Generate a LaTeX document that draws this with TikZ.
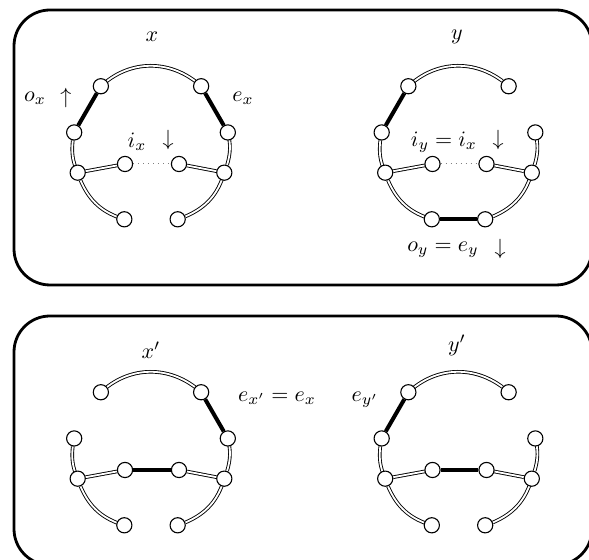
\documentclass[tikz,border=0pt]{standalone}
\usetikzlibrary{backgrounds}
\begin{document}
\begin{tikzpicture}[x=0.5pt,y=0.5pt,
  vtx/.style={circle,draw,fill=white,line width=0.55pt,minimum size=7.6pt,inner sep=0pt},
  dbl/.style={double,double distance=0.9pt,line width=0.45pt},
  heavy/.style={line width=2pt},
  gap/.style={dotted,line width=0.5pt,gray},
  frame/.style={draw,line width=1.4pt,rounded corners=18pt},
  lbl/.style={inner sep=0pt,scale=1.1,transform shape}]
\useasboundingbox (0,0) rectangle (589,560);

% the two panels
\draw[frame] (14,275) rectangle (592,550);
\draw[frame] (14,-5) rectangle (592,244);

% ten vertices on and inside a ring of radius 78
\newcommand\ringvertices{%
  \node[vtx] (tl) at (130:78) {};
  \node[vtx] (tr) at (50:78) {};
  \node[vtx] (lm) at (170:78) {};
  \node[vtx] (rm) at (10:78) {};
  \node[vtx] (ol) at (200:78) {};
  \node[vtx] (or) at (340:78) {};
  \node[vtx] (bl) at (250:78) {};
  \node[vtx] (br) at (290:78) {};
  \node[vtx] (il) at (-26,-18) {};
  \node[vtx] (ir) at (28,-18) {};}
% ring pieces shared by every graph
\newcommand\ringbase{%
  \draw[dbl] (tr) to[bend right=40] (tl);
  \draw[dbl] (lm) to[bend right=15] (ol);
  \draw[dbl] (ol) to[bend right=25] (bl);
  \draw[dbl] (br) to[bend right=25] (or);
  \draw[dbl] (or) to[bend right=15] (rm);
  \draw[dbl] (ol) -- (il);
  \draw[dbl] (or) -- (ir);}

% graph x
\begin{scope}[shift={(151,414)},name prefix=x-]
  \ringvertices
  \begin{scope}[on background layer]
    \ringbase
    \draw[heavy] (tl) -- (lm);
    \draw[heavy] (tr) -- (rm);
    \draw[gap] (il) -- (ir);
  \end{scope}
\end{scope}
\node[lbl] (xname) at (152,523) {$x$};
\node[lbl] (ox) at (35,462) {$o_x$};
\node[lbl] (oxarrow) at (66,462) {$\uparrow$};
\node[lbl] (ex) at (243,462) {$e_x$};
\node[lbl] (ix) at (137,418) {$i_x$};
\node[lbl] (ixarrow) at (168,420) {$\downarrow$};

% graph y
\begin{scope}[shift={(458.5,414)},name prefix=y-]
  \ringvertices
  \begin{scope}[on background layer]
    \ringbase
    \draw[heavy] (tl) -- (lm);
    \draw[heavy] (bl) -- (br);
    \draw[gap] (il) -- (ir);
  \end{scope}
\end{scope}
\node[lbl] (yname) at (457,523) {$y$};
\node[lbl] (iy) at (444,418) {$i_y = i_x$};
\node[lbl] (iyarrow) at (498,420) {$\downarrow$};
\node[lbl] (oy) at (443,310) {$o_y = e_y$};
\node[lbl] (oyarrow) at (500,311) {$\downarrow$};

% graph x'
\begin{scope}[shift={(151,108)},name prefix=xp-]
  \ringvertices
  \begin{scope}[on background layer]
    \ringbase
    \draw[heavy] (tr) -- (rm);
    \draw[heavy] (il) -- (ir);
  \end{scope}
\end{scope}
\node[lbl] (xpname) at (151,210) {$x'$};
\node[lbl] (expx) at (277,162) {$e_{x'} = e_x$};

% graph y'
\begin{scope}[shift={(458.5,108)},name prefix=yp-]
  \ringvertices
  \begin{scope}[on background layer]
    \ringbase
    \draw[heavy] (tl) -- (lm);
    \draw[heavy] (il) -- (ir);
  \end{scope}
\end{scope}
\node[lbl] (ypname) at (457,215) {$y'$};
\node[lbl] (eyp) at (365,160) {$e_{y'}$};
\end{tikzpicture}
\end{document}
